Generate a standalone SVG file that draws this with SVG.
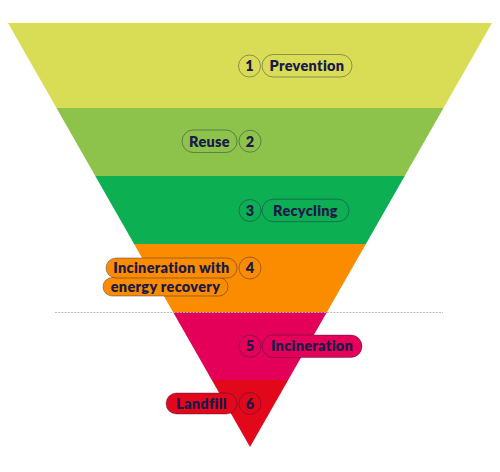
<svg xmlns="http://www.w3.org/2000/svg" width="500" height="472" viewBox="0 0 500 472">
<style>
.t{font-family:"Lato","Liberation Sans",sans-serif;font-weight:800;font-size:14.5px;letter-spacing:0.3px;fill:#1b1a4a}
.c{text-anchor:middle}
.o{stroke:#1b1a4a;stroke-opacity:0.4;stroke-width:1}
</style>
<rect width="500" height="472" fill="#ffffff"/>
<g id="bands">
<polygon points="8,23 492,23 443.5,108 56.5,108" fill="#d9dd55"/>
<polygon points="56.5,108 443.5,108 404.7,176 95.3,176" fill="#8dc24b"/>
<polygon points="95.3,176 404.7,176 365.9,244 134.1,244" fill="#0caf52"/>
<polygon points="134.1,244 365.9,244 327,312 173,312" fill="#fb8c00"/>
<polygon points="173,312 327,312 288.2,380 211.8,380" fill="#e40058"/>
<polygon points="211.8,380 288.2,380 250,447" fill="#e2071a"/>
</g>
<g id="connectors">
<line x1="55" y1="312.5" x2="443" y2="312.5" stroke="#b8b8b8" stroke-width="1" stroke-dasharray="2 1.2"/>
</g>
<g id="n1">
<circle class="o" cx="249.5" cy="66" r="11" fill="#d9dd55"/>
<text class="t c" x="249.5" y="71">1</text>
<rect class="o" x="262" y="54.5" width="90" height="22.5" rx="11.25" fill="#d9dd55"/>
<text class="t c" x="307" y="71">Prevention</text>
</g>
<g id="n2">
<rect class="o" x="182" y="130" width="55" height="22.5" rx="11.25" fill="#8dc24b"/>
<text class="t c" x="209.5" y="146.5">Reuse</text>
<circle class="o" cx="250" cy="141.2" r="11" fill="#8dc24b"/>
<text class="t c" x="250" y="146.5">2</text>
</g>
<g id="n3">
<circle class="o" cx="250" cy="210.5" r="11" fill="#0caf52"/>
<text class="t c" x="250" y="215.5">3</text>
<rect class="o" x="262" y="199.2" width="87" height="22.5" rx="11.25" fill="#0caf52"/>
<text class="t c" x="305.5" y="215.5">Recycling</text>
</g>
<g id="n4">
<rect class="o" x="103" y="277.5" width="125" height="18.5" rx="9.25" fill="#fb8c00"/>
<text class="t c" x="165.5" y="291.7">energy recovery</text>
<rect class="o" x="106" y="258" width="131" height="20" rx="10" fill="#fb8c00"/>
<text class="t c" x="171.5" y="273">Incineration with</text>
<circle class="o" cx="250" cy="268" r="11" fill="#fb8c00"/>
<text class="t c" x="250" y="273">4</text>
</g>
<g id="n5">
<circle class="o" cx="250" cy="346.2" r="11" fill="#e40058"/>
<text class="t c" x="250" y="351.3">5</text>
<rect class="o" x="262" y="335" width="100" height="22.5" rx="11.25" fill="#e40058"/>
<text class="t c" x="312" y="351.3">Incineration</text>
</g>
<g id="n6">
<rect class="o" x="166" y="393" width="71" height="21" rx="10.5" fill="#e2071a"/>
<text class="t c" x="201.5" y="408.5">Landfill</text>
<circle class="o" cx="250" cy="403.5" r="11" fill="#e2071a"/>
<text class="t c" x="250" y="408.5">6</text>
</g>
</svg>
